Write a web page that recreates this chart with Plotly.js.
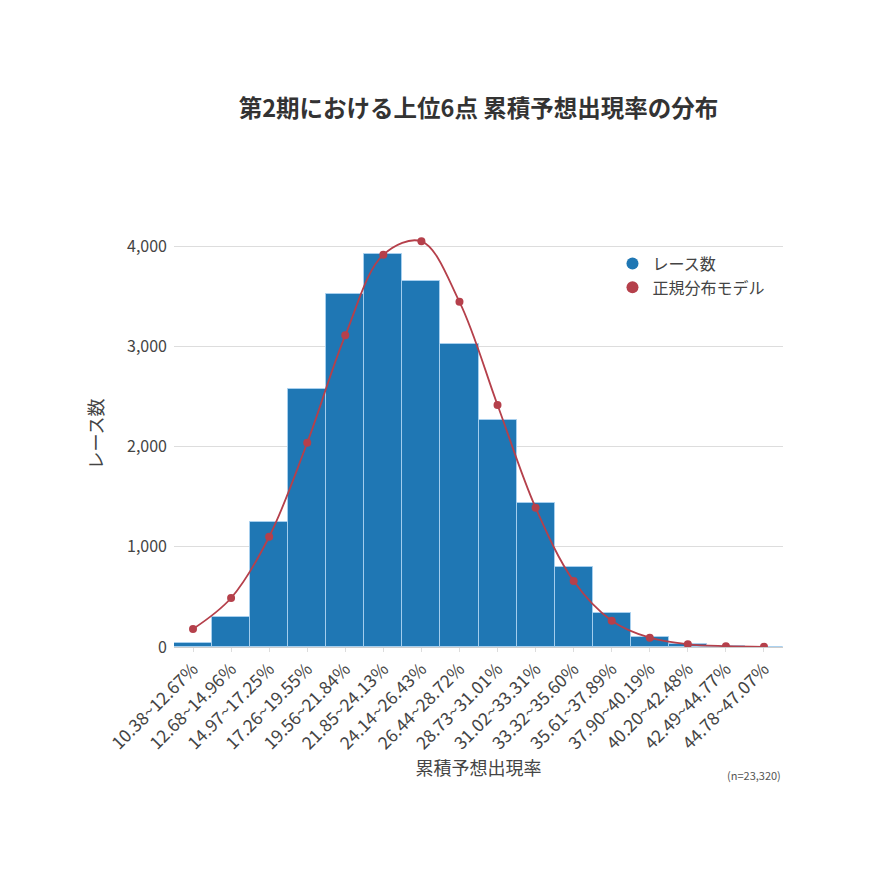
<html>
	<head>
		<meta charset="utf-8" />
		<title>累積予想出現率の分布</title>
		<script src="https://cdn.plot.ly/plotly-3.0.1.min.js"></script>
	</head>

	<body style="margin:0">

	  <div id="myDiv" style="width:870px;height:870px"></div>

		<script>

const bins = ['10.38~12.67%', '12.68~14.96%', '14.97~17.25%', '17.26~19.55%', '19.56~21.84%', '21.85~24.13%',
	'24.14~26.43%', '26.44~28.72%', '28.73~31.01%', '31.02~33.31%', '33.32~35.60%', '35.61~37.89%',
	'37.90~40.19%', '40.20~42.48%', '42.49~44.77%', '44.78~47.07%'];

// レース数 (histogram counts)
const counts = [43, 300, 1244, 2577, 3525, 3917, 3654, 3020, 2264, 1433, 798, 339, 100, 30, 6, 2];

// 正規分布モデル
const normal = [180, 489, 1100, 2038, 3109, 3914, 4047, 3444, 2414, 1390, 658, 263, 93, 27, 8, 2];

const fnt = 'Noto Sans CJK JP, Noto Sans, sans-serif';
const blue = '#1f77b4';
const red = '#b5404b';

var bars = {
  x: bins,
  y: counts,
  type: 'bar',
  name: 'レース数',
  showlegend: false,
  marker: { color: blue, line: { color: 'rgba(170,210,240,0.9)', width: 1 } }
};

var model = {
  x: bins,
  y: normal,
  type: 'scatter',
  mode: 'lines+markers',
  name: '正規分布モデル',
  showlegend: false,
  line: { color: red, width: 1.8, shape: 'spline' },
  marker: { color: red, size: 8 }
};

// legend only shows round markers
var legBar = { x: [bins[0]], y: [null], type: 'scatter', mode: 'markers', name: 'レース数', marker: { color: blue, size: 16 } };
var legModel = { x: [bins[0]], y: [null], type: 'scatter', mode: 'markers', name: '正規分布モデル', marker: { color: red, size: 16 } };

var layout = {
  width: 870,
  height: 870,
  font: { family: fnt, color: '#444' },
  paper_bgcolor: 'white',
  plot_bgcolor: 'white',
  margin: { l: 174, r: 87, t: 221, b: 223 },
  title: { text: '<b>第2期における上位6点 累積予想出現率の分布</b>', x: 0.55, xanchor: 'center', y: 0.885, font: { size: 23.5, color: '#333', family: fnt } },
  bargap: 0,
  showlegend: true,
  legend: { x: 0.72, y: 0.94, xanchor: 'left', yanchor: 'top', bgcolor: 'white', font: { size: 16, color: '#444' }, itemsizing: 'constant', tracegroupgap: 0 },
  xaxis: {
    type: 'category',
    range: [-0.5, 15.5],
    tickangle: -45,
    tickfont: { size: 17.5, color: '#444' },
    ticks: 'outside', ticklen: 4, tickcolor: '#ddd',
    showgrid: false,
    showline: false,
    title: { text: '累積予想出現率', font: { size: 18, color: '#444' }, standoff: 8 }
  },
  yaxis: {
    range: [0, 4250],
    tickvals: [0, 1000, 2000, 3000, 4000],
    tickformat: ',d',
    tickfont: { size: 16, color: '#444' },
    gridcolor: '#ddd',
    zeroline: true, zerolinecolor: '#ccc',
    ticks: '', ticklabelstandoff: 6,
    title: { text: 'レース数', font: { size: 18, color: '#444' }, standoff: 18 }
  },
  annotations: [{
    text: '(n=23,320)', xref: 'paper', yref: 'paper', x: 1, y: -0.3, xanchor: 'right', yanchor: 'middle',
    showarrow: false, font: { size: 11, color: '#555' }
  }]
};

Plotly.newPlot('myDiv', [bars, model, legBar, legModel], layout, { displayModeBar: false });

		</script>

	</body>
</html>
